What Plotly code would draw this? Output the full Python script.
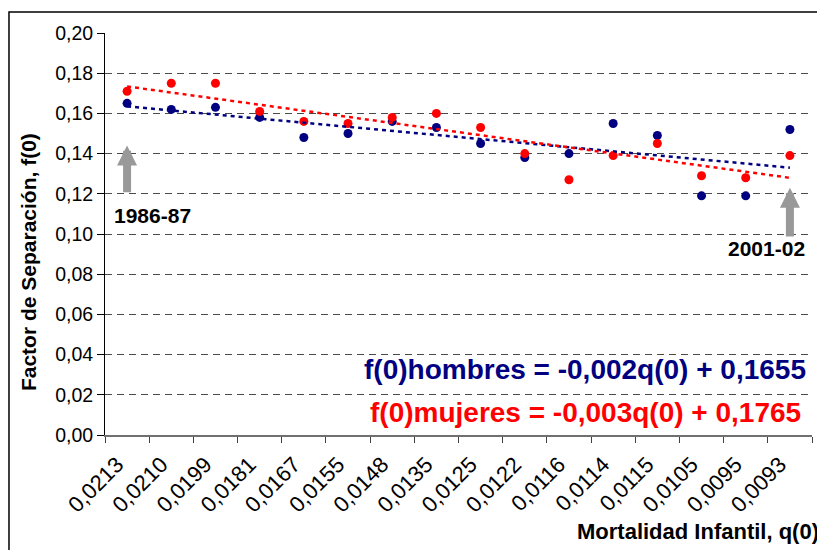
import numpy as np
import plotly.graph_objects as go

categories = ["0,0213", "0,0210", "0,0199", "0,0181", "0,0167", "0,0155", "0,0148", "0,0135",
              "0,0125", "0,0122", "0,0116", "0,0114", "0,0115", "0,0105", "0,0095", "0,0093"]
hombres = [0.165, 0.162, 0.163, 0.158, 0.148, 0.150, 0.156, 0.153,
           0.145, 0.138, 0.140, 0.155, 0.149, 0.119, 0.119, 0.152]
mujeres = [0.171, 0.175, 0.175, 0.161, 0.156, 0.155, 0.158, 0.160,
           0.153, 0.140, 0.127, 0.139, 0.145, 0.129, 0.128, 0.139]
y_ticks = [0.00, 0.02, 0.04, 0.06, 0.08, 0.10, 0.12, 0.14, 0.16, 0.18, 0.20]
y_ticktext = ["0,00", "0,02", "0,04", "0,06", "0,08", "0,10", "0,12", "0,14", "0,16", "0,18", "0,20"]
eq_hombres = "f(0)hombres = -0,002q(0) + 0,1655"
eq_mujeres = "f(0)mujeres = -0,003q(0) + 0,1765"

NAVY = "#000080"
RED = "#FF0000"
FONT = "Liberation Sans, Arial, sans-serif"

idx = np.arange(1, len(categories) + 1)
fit_h = np.polyval(np.polyfit(idx, hombres, 1), idx)
fit_m = np.polyval(np.polyfit(idx, mujeres, 1), idx)

fig = go.Figure()
fig.add_trace(go.Scatter(x=categories, y=hombres, mode="markers",
                         marker=dict(color=NAVY, size=9), showlegend=False))
fig.add_trace(go.Scatter(x=categories, y=mujeres, mode="markers",
                         marker=dict(color=RED, size=9), showlegend=False))
fig.add_trace(go.Scatter(x=categories, y=fit_h, mode="lines",
                         line=dict(color=NAVY, width=2.5, dash="4px,4px"), showlegend=False))
fig.add_trace(go.Scatter(x=categories, y=fit_m, mode="lines",
                         line=dict(color=RED, width=2.5, dash="4px,4px"), showlegend=False))

annotations = [
    dict(text=eq_hombres, xref="paper", yref="paper", x=0.994, y=0.162, xanchor="right", yanchor="middle",
         showarrow=False, font=dict(family=FONT, size=28, color=NAVY, weight="bold")),
    dict(text=eq_mujeres, xref="paper", yref="paper", x=0.987, y=0.057, xanchor="right", yanchor="middle",
         showarrow=False, font=dict(family=FONT, size=28, color=RED, weight="bold")),
    dict(text="Factor de Separación, f(0)", xref="paper", yref="paper", x=-0.109, y=0.43, textangle=-90,
         xanchor="center", yanchor="middle", showarrow=False,
         font=dict(family=FONT, size=21, color="black", weight="bold")),
    dict(text="Mortalidad Infantil, q(0)", xref="paper", yref="paper", x=1.0127, y=-0.241,
         xanchor="right", yanchor="middle", showarrow=False,
         font=dict(family=FONT, size=22, color="black", weight="bold")),
    dict(text="", x=0, y=0.144, ax=0, ay=0.12, xref="x", yref="y", axref="x", ayref="y",
         showarrow=True, arrowhead=2, arrowsize=0.5, arrowwidth=8, arrowcolor="#999999"),
    dict(text="", x=15, y=0.123, ax=15, ay=0.098, xref="x", yref="y", axref="x", ayref="y",
         showarrow=True, arrowhead=2, arrowsize=0.5, arrowwidth=8, arrowcolor="#999999"),
    dict(text="1986-87", x=0.57, y=0.109, xref="x", yref="y", showarrow=False,
         font=dict(family=FONT, size=21, color="black", weight="bold")),
    dict(text="2001-02", x=14.46, y=0.093, xref="x", yref="y", showarrow=False,
         font=dict(family=FONT, size=21, color="black", weight="bold")),
]

# the page adds an 8px body margin, so the figure is sized and offset to compensate
fig.update_layout(
    width=817, height=542,
    margin=dict(l=97, r=13, t=25, b=115),
    paper_bgcolor="white", plot_bgcolor="white",
    font=dict(family=FONT, color="black"),
    annotations=annotations,
    shapes=[dict(type="rect", xref="paper", yref="paper", x0=-0.1358, x1=1.06, y0=-0.4, y1=1.052,
                 line=dict(color="black", width=1.5), fillcolor="rgba(0,0,0,0)", layer="above")],
    xaxis=dict(type="category", categoryorder="array", categoryarray=categories,
               range=[-0.5, 15.5], showgrid=False, zeroline=False,
               showline=True, linecolor="#707070", linewidth=2,
               ticks="outside", tickson="boundaries", ticklen=6, tickcolor="#404040",
               tickangle=-45, ticklabelshift=-10, ticklabelstandoff=6,
               tickfont=dict(family=FONT, size=22, color="black")),
    yaxis=dict(range=[0, 0.2], tickvals=y_ticks, ticktext=y_ticktext,
               showgrid=True, gridcolor="#4a4a4a", gridwidth=1, griddash="7px,5px",
               zeroline=False, showline=True, linecolor="black", linewidth=1,
               ticks="outside", ticklen=7, tickcolor="black",
               tickfont=dict(family=FONT, size=19.5, color="black")),
)

fig.write_html("out.html")
